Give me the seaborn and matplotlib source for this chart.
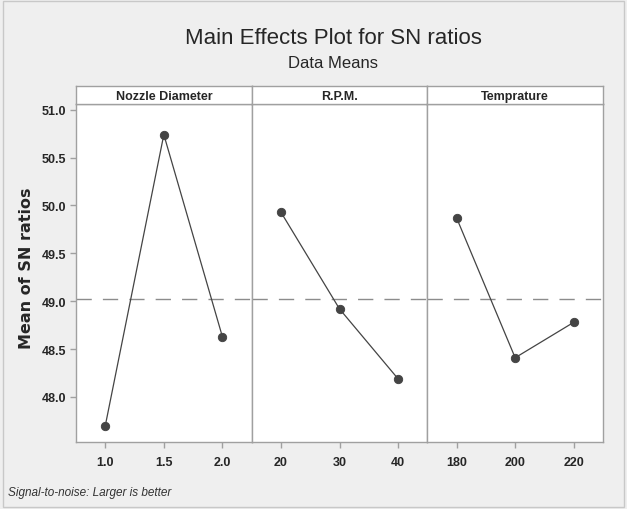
import numpy as np
import pandas as pd
import matplotlib.pyplot as plt
import seaborn as sns
from matplotlib.patches import Rectangle

factors = ["Nozzle Diameter", "R.P.M.", "Temprature"]
nozzle_levels = ["1.0", "1.5", "2.0"]
rpm_levels = ["20", "30", "40"]
temp_levels = ["180", "200", "220"]
nozzle_sn = [47.70, 50.74, 48.63]
rpm_sn = [49.93, 48.92, 48.19]
temp_sn = [49.87, 48.41, 48.78]
y_ticks = [48.0, 48.5, 49.0, 49.5, 50.0, 50.5, 51.0]

levels = [nozzle_levels, rpm_levels, temp_levels]
values = [nozzle_sn, rpm_sn, temp_sn]
grand_mean = np.mean(nozzle_sn + rpm_sn + temp_sn)

sns.set_style("white")
plt.rcParams["font.family"] = ["Liberation Sans", "DejaVu Sans"]

fig = plt.figure(figsize=(6.27, 5.10), dpi=100, facecolor="#efefef")
fig.patches.append(Rectangle((0.004, 0.004), 0.992, 0.992, transform=fig.transFigure,
                             fill=False, edgecolor="#c8c8c8", lw=1))

left, right, bottom, top = 76 / 627, 603 / 627, 1 - 443 / 510, 1 - 105 / 510
strip_h = 18 / 510
pw = (right - left) / 3
edge = "#a0a0a0"

for i in range(3):
    ax = fig.add_axes([left + i * pw, bottom, pw, top - bottom])
    df = pd.DataFrame({"level": levels[i], "sn": values[i]})
    sns.pointplot(data=df, x="level", y="sn", ax=ax, color="#333333",
                  markers="o", markersize=6, linewidth=0.9, errorbar=None)
    ax.lines[0].set_color("#444444")
    ax.axhline(grand_mean, color="#8c8c8c", lw=1, dashes=(11, 8), zorder=0)
    ax.set_xlim(-0.5, 2.5)
    ax.set_ylim(47.53, 51.06)
    ax.set_xlabel("")
    ax.set_ylabel("")
    ax.set_facecolor("white")
    for s in ax.spines.values():
        s.set_color(edge)
        s.set_linewidth(1)
    ax.tick_params(axis="x", direction="out", length=4, color=edge, width=1,
                   labelsize=9, pad=6, bottom=True)
    for t in ax.get_xticklabels():
        t.set_fontweight("bold")
    ax.set_yticks(y_ticks)
    if i == 0:
        ax.set_yticklabels([f"{v:.1f}" for v in y_ticks], fontsize=9, fontweight="bold")
        ax.tick_params(axis="y", direction="out", length=4, color=edge, width=1,
                       left=True, pad=3)
    else:
        ax.tick_params(axis="y", left=False, labelleft=False)

    sax = fig.add_axes([left + i * pw, top, pw, strip_h])
    sax.set_xticks([])
    sax.set_yticks([])
    sax.set_facecolor("white")
    for s in sax.spines.values():
        s.set_color(edge)
        s.set_linewidth(1)
    sax.text(0.5, 0.45, factors[i], ha="center", va="center", fontsize=9,
             fontweight="bold", transform=sax.transAxes)

fig.text(333 / 627, 1 - 38 / 510, "Main Effects Plot for SN ratios", ha="center",
         va="center", fontsize=16)
fig.text(333 / 627, 1 - 64 / 510, "Data Means", ha="center", va="center", fontsize=12)
fig.text(27 / 627, 1 - 268 / 510, "Mean of SN ratios", rotation=90, ha="center",
         va="center", fontsize=11.5, fontweight="bold", family=["DejaVu Sans"])
fig.text(8 / 627, 1 - 493 / 510, "Signal-to-noise: Larger is better", ha="left",
         va="center", fontsize=8.5, style="italic", color="#333333")

fig.savefig("out.png", dpi=100, facecolor=fig.get_facecolor())
